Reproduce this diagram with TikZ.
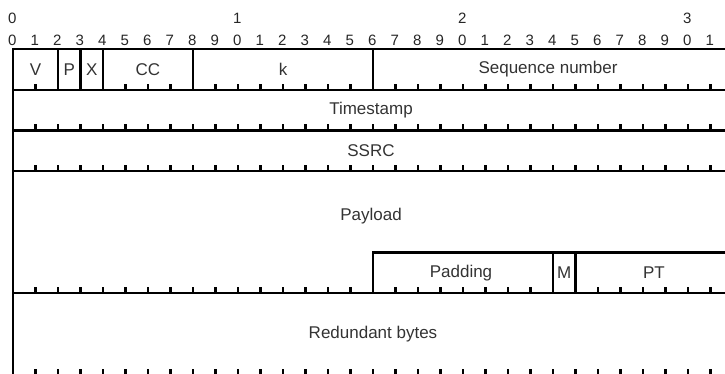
\documentclass[tikz,border=0pt]{standalone}
\usepackage{fontspec}
\setmainfont{Liberation Sans}
\begin{document}
\begin{tikzpicture}[x=1pt,y=-1pt,
  frame/.style={line width=2.2pt,black},
  tick/.style={line width=2.2pt,black},
  digit/.style={inner sep=0pt,text=black!85,font=\fontsize{15}{17}\selectfont},
  field/.style={inner sep=0pt,text=black!80,font=\fontsize{17}{19}\selectfont}]
\useasboundingbox (0,0) rectangle (725,373);
\clip (0,0) rectangle (725,373);
% bit numbers: left edge 13, bit width 22.5
\foreach \i in {0,...,31}{
  \pgfmathtruncatemacro{\u}{mod(\i,10)}
  \node[digit] (u\i) at ({12.25+22.5*\i},40) {\u};
}
\foreach \i/\t in {0/0,10/1,20/2,30/3}{
  \node[digit] (t\i) at ({12.25+22.5*\i},18) {\t};
}
% outer frame and row separators (rows 40.7 high from y=49)
\draw[frame] (13,49) -- (13,380);
\foreach \y in {49,89.7,130.4,171.1,293.2,374.6}
  \draw[frame] (12,\y) -- (740,\y);
% first row field boundaries
\foreach \b in {2,3,4,8,16}
  \draw[frame] ({13+22.5*\b},49) -- ({13+22.5*\b},89.7);
% padding / marker / payload type box
\draw[frame] ({13+22.5*16},293.2) -- ({13+22.5*16},252.5) -- (740,252.5);
\foreach \b in {24,25}
  \draw[frame] ({13+22.5*\b},252.5) -- ({13+22.5*\b},293.2);
% bit ticks along the bottom of each row
\foreach \y in {89.7,130.4,171.1,293.2,374.6}
  \foreach \i in {1,...,31}
    \draw[tick] ({13+22.5*\i},\y) -- ({13+22.5*\i},\y-6);
% field names
\node[field] (V) at (35.5,69.4) {V};
\node[field] (P) at (69.25,69.4) {P};
\node[field] (X) at (91.75,69.4) {X};
\node[field] (CC) at (148,69.4) {CC};
\node[field] (k) at (283,69.4) {k};
\node[field] (seq) at (548,69.4) {Sequence number};
\node[field] (ts) at (371,110) {Timestamp};
\node[field] (ssrc) at (371,150.7) {SSRC};
\node[field] (pl) at (371,216.5) {Payload};
\node[field] (pad) at (461,272.8) {Padding};
\node[field] (M) at (564.25,272.8) {M};
\node[field] (PT) at (654,272.8) {PT};
\node[field] (red) at (373,334) {Redundant bytes};
\end{tikzpicture}
\end{document}
